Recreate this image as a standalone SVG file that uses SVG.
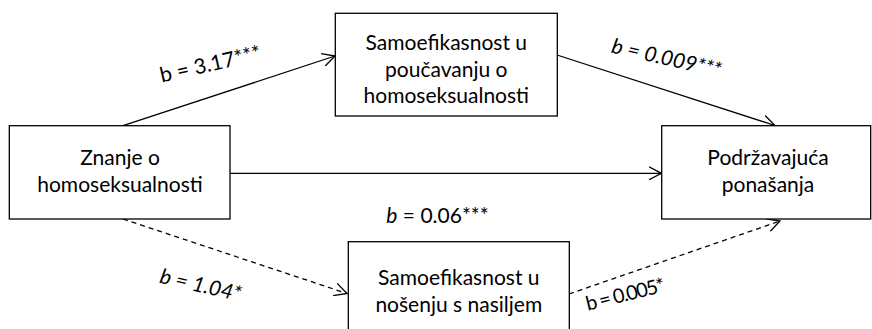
<svg xmlns="http://www.w3.org/2000/svg" width="872" height="329" viewBox="0 0 872 329">
<style>
.box{fill:#fff;stroke:#000;stroke-width:1.3}
.t{font-family:Lato,"Liberation Sans",sans-serif;font-size:21px;fill:#000;text-anchor:middle}
.c{fill:none;stroke:#000;stroke-width:1.3}
.d{stroke-dasharray:5 4}
.i{font-style:italic}
</style>
<defs>
<marker id="ah" viewBox="0 0 14 14" refX="13" refY="7" markerWidth="14" markerHeight="14" markerUnits="userSpaceOnUse" orient="auto">
<path d="M0.5,0.5 L13,7 L0.5,13.5" fill="none" stroke="#000" stroke-width="1.3"/>
</marker>
</defs>
<g id="connectors">
<line class="c" x1="123" y1="125.7" x2="335" y2="56" marker-end="url(#ah)"/>
<line class="c" x1="557" y1="55" x2="775" y2="125.5" marker-end="url(#ah)"/>
<line class="c" x1="230" y1="173.3" x2="661.5" y2="173.3" marker-end="url(#ah)"/>
<line class="c d" x1="123" y1="219" x2="347" y2="293.5" marker-end="url(#ah)"/>
<line class="c d" x1="569" y1="294" x2="780" y2="221" marker-end="url(#ah)"/>
<text class="t" transform="translate(212,71) rotate(-13)">b = 3.17***</text>
<text class="t i" transform="translate(665,65) rotate(13)">b = 0.009***</text>
<text class="t" x="437.5" y="223"><tspan class="i">b</tspan> = 0.06***</text>
<text class="t i" transform="translate(199,292) rotate(13)">b = 1.04*</text>
<text class="t" style="font-size:20px" transform="translate(627,301) rotate(-14)" textLength="81" lengthAdjust="spacing">b = 0.005*</text>
</g>
<g id="znanje">
<rect class="box" x="9.3" y="125.7" width="220.7" height="93.3"/>
<text class="t" x="120" y="165">Znanje o</text>
<text class="t" x="120" y="191.7">homoseksualnosti</text>
</g>
<g id="poucavanje">
<rect class="box" x="335.3" y="13.3" width="222" height="102.7"/>
<text class="t" x="446.3" y="50">Samoefikasnost u</text>
<text class="t" x="446.3" y="76.5">poučavanju o</text>
<text class="t" x="446.3" y="103">homoseksualnosti</text>
</g>
<g id="podrzavajuca">
<rect class="box" x="661.7" y="125.7" width="209" height="93.3"/>
<text class="t" x="768" y="165">Podržavajuća</text>
<text class="t" x="768" y="192">ponašanja</text>
</g>
<g id="nasilje">
<rect class="box" x="348.3" y="241.7" width="221" height="100"/>
<text class="t" x="458.8" y="285">Samoefikasnost u</text>
<text class="t" x="458.8" y="312">nošenju s nasiljem</text>
</g>
</svg>
